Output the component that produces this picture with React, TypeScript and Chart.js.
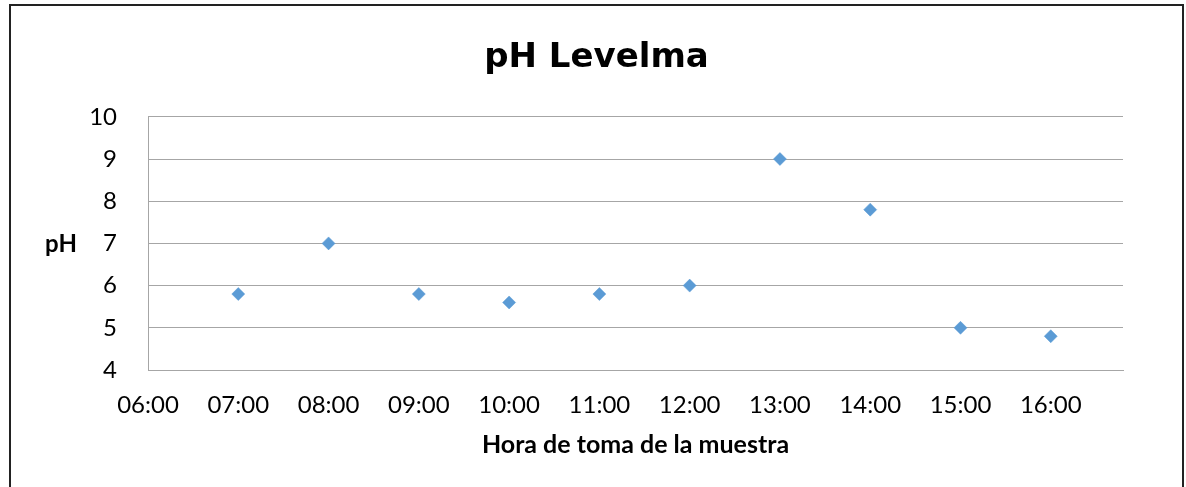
import React, { useEffect, useRef } from "react";
import { Chart, registerables } from "chart.js";

Chart.register(...registerables);

// Sampling times and measured pH values
const sampleTimes = ["07:00", "08:00", "09:00", "10:00", "11:00", "12:00", "13:00", "14:00", "15:00", "16:00"];
const phValues = [5.8, 7.0, 5.8, 5.6, 5.8, 6.0, 9.0, 7.8, 5.0, 4.8];

// Axis ranges (x in hours of the day)
const xMinHour = 6;
const xMaxHour = 16.8;
const xTickHours = [6, 7, 8, 9, 10, 11, 12, 13, 14, 15, 16];
const yTicks = [4, 5, 6, 7, 8, 9, 10];

const chartTitle = "pH Levelma";
const xAxisTitle = "Hora de toma de la muestra";
const yAxisLabel = "pH";

const toHours = (t: string) => {
  const [h, m] = t.split(":").map(Number);
  return h + m / 60;
};
const fmtHour = (v: number) => {
  const h = Math.floor(v);
  const m = Math.round((v - h) * 60);
  return `${String(h).padStart(2, "0")}:${String(m).padStart(2, "0")}`;
};

const W = 1186;
const H = 487;
const FONT = "Lato, 'Liberation Sans', sans-serif";

// Horizontal (unrotated) y-axis label next to the tick values
const yLabelPlugin = {
  id: "yLabel",
  afterDraw(chart: any) {
    const { ctx, chartArea, scales } = chart;
    const y = scales.y.getPixelForValue(7);
    ctx.save();
    ctx.font = `bold 24px ${FONT}`;
    ctx.fillStyle = "#000";
    ctx.textAlign = "center";
    ctx.textBaseline = "middle";
    ctx.fillText(yAxisLabel, chartArea.left - 87, y + 1);
    ctx.restore();
  },
};

export default function App() {
  const ref = useRef<HTMLCanvasElement | null>(null);

  useEffect(() => {
    if (!ref.current) return;
    const points = sampleTimes.map((t, i) => ({ x: toHours(t), y: phValues[i] }));
    const chart = new Chart(ref.current, {
      type: "scatter",
      data: {
        datasets: [
          {
            label: "pH",
            data: points,
            pointStyle: "rectRot",
            pointRadius: 6.5,
            pointBackgroundColor: "#5b9bd5",
            pointBorderColor: "#5b9bd5",
            pointBorderWidth: 0.5,
          },
        ],
      },
      options: {
        responsive: false,
        animation: false,
        devicePixelRatio: 1,
        layout: { padding: { left: 70, right: 63, top: 0, bottom: 0 } },
        plugins: {
          legend: { display: false },
          tooltip: { enabled: false },
          title: {
            display: true,
            text: chartTitle,
            color: "#000",
            font: { family: "'DejaVu Sans', sans-serif", size: 34, weight: "bold", lineHeight: 1.2 },
            padding: { top: 38, bottom: 38 },
          },
        },
        scales: {
          x: {
            type: "linear",
            min: xMinHour,
            max: xMaxHour,
            grid: { display: false, drawTicks: false },
            border: { display: true, color: "#a6a6a6", width: 1 },
            afterBuildTicks: (scale: any) => {
              scale.ticks = xTickHours.map((v) => ({ value: v }));
            },
            afterFit: (scale: any) => {
              scale.height = 117;
            },
            ticks: {
              autoSkip: false,
              maxRotation: 0,
              color: "#000",
              padding: 21,
              font: { family: FONT, size: 24 },
              callback: (v: any) => fmtHour(Number(v)),
            },
            title: {
              display: true,
              text: xAxisTitle,
              color: "#000",
              font: { family: FONT, size: 25, weight: "bold", lineHeight: 1.2 },
              padding: { top: 0, bottom: 27 },
            },
          },
          y: {
            min: yTicks[0],
            max: yTicks[yTicks.length - 1],
            afterBuildTicks: (scale: any) => {
              scale.ticks = yTicks.map((v) => ({ value: v }));
            },
            afterFit: (scale: any) => {
              scale.width = 78;
            },
            grid: { color: "#a6a6a6", lineWidth: 1, drawTicks: false },
            border: { display: true, color: "#a6a6a6", width: 1 },
            ticks: {
              color: "#000",
              padding: 31,
              font: { family: FONT, size: 24 },
            },
          },
        },
      },
      plugins: [yLabelPlugin],
    });
    return () => chart.destroy();
  }, []);

  return (
    <div>
      <div
        style={{
          position: "absolute",
          left: 9,
          top: 4,
          width: 1175,
          height: 520,
          border: "2px solid #222",
          boxSizing: "border-box",
        }}
      />
      <canvas
        ref={ref}
        width={W}
        height={H}
        style={{ position: "absolute", left: 0, top: 0, width: W, height: H }}
      />
    </div>
  );
}
